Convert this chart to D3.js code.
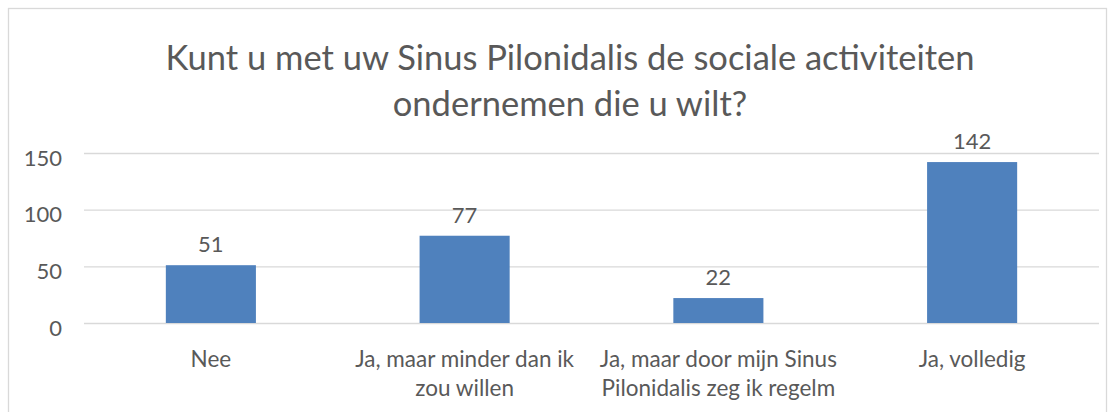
<!DOCTYPE html>
<html>
<head>
<meta charset="utf-8">
<script src="https://cdn.jsdelivr.net/npm/d3@7"></script>
<style>
  body { margin: 0; background: #fff; }
  text { font-family: Lato, "Open Sans", sans-serif; fill: #595959; }
</style>
</head>
<body>
<script>
const width = 1115;
const height = 412;

// data
const categories = ['Nee', 'Ja, maar minder dan ik zou willen', 'Ja, maar door mijn Sinus Pilonidalis zeg ik regelm', 'Ja, volledig'];
const labelLines = [['Nee'], ['Ja, maar minder dan ik', 'zou willen'], ['Ja, maar door mijn Sinus', 'Pilonidalis zeg ik regelm'], ['Ja, volledig']];
const values = [51, 77, 22, 142];
const yTicks = [0, 50, 100, 150];
const titleLines = ['Kunt u met uw Sinus Pilonidalis de sociale activiteiten', 'ondernemen die u wilt?'];

const margin = {top: 153, right: 16, bottom: 89, left: 84};
const font = 'Lato, "Open Sans", sans-serif';

const svg = d3.select('body').append('svg').attr('width', width).attr('height', height);

// chart border
svg.append('rect')
  .attr('x', 8.5).attr('y', 8.5)
  .attr('width', width - 17).attr('height', height)
  .attr('fill', 'none').attr('stroke', '#d9d9d9').attr('stroke-width', 1.3);

const x = d3.scaleBand()
  .domain(categories)
  .range([margin.left, width - margin.right])
  .paddingInner(0.645)
  .paddingOuter(0.3225);

const y = d3.scaleLinear()
  .domain([0, 150])
  .range([height - margin.bottom, margin.top]);

// title
svg.append('text')
  .attr('x', 570).attr('y', 70)
  .attr('text-anchor', 'middle')
  .style('font-size', '34.5px')
  .selectAll('tspan')
  .data(titleLines)
  .enter()
  .append('tspan')
  .attr('x', 570)
  .attr('dy', (d, i) => i == 0 ? 0 : 46)
  .text(d => d);

// gridlines + y labels
const yAxis = svg.append('g')
  .attr('transform', `translate(${margin.left},0)`)
  .call(d3.axisLeft(y).tickValues(yTicks).tickSize(-(width - margin.left - margin.right)).tickPadding(22));
yAxis.select('.domain').remove();
yAxis.selectAll('line').attr('stroke', '#d9d9d9').attr('stroke-width', 1.3);
yAxis.selectAll('text')
  .style('font-size', '22px')
  .style('font-family', font)
  .attr('fill', '#595959')
  .attr('dy', '0.55em');

// bars
svg.selectAll('rect.bar')
  .data(values)
  .enter()
  .append('rect')
  .attr('class', 'bar')
  .attr('x', (d, i) => x(categories[i]))
  .attr('y', d => y(d))
  .attr('width', x.bandwidth())
  .attr('height', d => y(0) - y(d))
  .attr('fill', '#4f81bd');

// value labels
svg.selectAll('text.val')
  .data(values)
  .enter()
  .append('text')
  .attr('class', 'val')
  .attr('x', (d, i) => x(categories[i]) + x.bandwidth() / 2)
  .attr('y', d => y(d) - 13)
  .attr('text-anchor', 'middle')
  .style('font-size', '22px')
  .text(d => d);

// category labels
const cat = svg.selectAll('text.cat')
  .data(categories)
  .enter()
  .append('text')
  .attr('class', 'cat')
  .attr('x', d => x(d) + x.bandwidth() / 2)
  .attr('y', 366.5)
  .attr('text-anchor', 'middle')
  .style('font-size', '22.5px');
cat.selectAll('tspan')
  .data((d, i) => labelLines[i])
  .enter()
  .append('tspan')
  .attr('x', function() { return d3.select(this.parentNode).attr('x'); })
  .attr('dy', (d, i) => i == 0 ? 0 : 29)
  .text(d => d);
</script>
</body>
</html>
